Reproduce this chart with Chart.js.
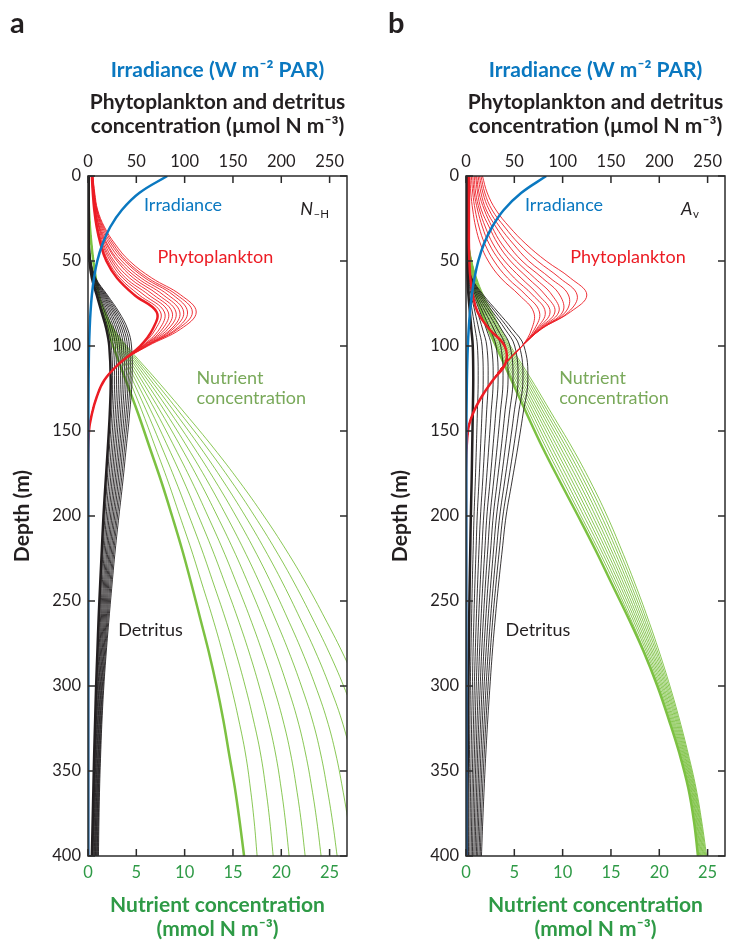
<!DOCTYPE html>
<html>
<head>
<meta charset="utf-8">
<script src="https://cdn.jsdelivr.net/npm/chart.js@4.4.1/dist/chart.umd.min.js"></script>
<style>
  html, body { margin: 0; padding: 0; background: #fff; width: 729px; height: 941px; overflow: hidden; }
  .panel { position: absolute; top: 0; width: 379px; height: 941px; }
  #pa { left: 0; }
  #pb { left: 378px; }
</style>
</head>
<body>
<div class="panel" id="pa"><canvas id="ca" width="379" height="941"></canvas></div>
<div class="panel" id="pb"><canvas id="cb" width="379" height="941"></canvas></div>
<script>
// Depth levels (m): fine grid for light and phytoplankton, coarser below 100 m for detritus and nutrient
const DEPTH_P = [0,10,20,30,40,50,60,70,80,90,100,110,120,130,140,150,175,200,300,400];
const DEPTH_DN = [0,10,20,30,40,50,60,70,80,90,100,120,140,160,180,200,220,240,260,280,300,320,340,360,380,400];

// Tick values
const DEPTH_TICKS = [0,50,100,150,200,250,300,350,400];
const CONC_TICKS = [0,50,100,150,200,250];
const NUT_TICKS = [0,5,10,15,20,25];

// ---- Panel a (N-H ensemble) ----
const IRR_A = [82,53,35,23,15,9.6,6.2,4,2.6,1.7,1.1,0.8,0.6,0.5,0.4,0.35,0.3,0.3,0.3,0.3];

// phytoplankton, depths 0..100 m; first row is the reference run
const PHYTO_A = [
  [4,5,6.5,9,13,19,30,48,71,67,54],
  [4,5,7,9.5,14,21,33,53,75,70,55],
  [4,5,7,10,15,23,36,58,79,74,56],
  [4,5.5,7.5,11,16,25,39,63,83,77,57],
  [4.5,5.5,7.5,11.5,17.5,27,43,68,87,80,57],
  [4.5,6,8,12,19,30,47,73,91,83,58],
  [4.5,6,8.5,13,20,32,51,78,95,86,59],
  [4.5,6,9,14,22,35,55,83,99,88,60],
  [5,6.5,9,15,24,38,59,88,103,91,60],
  [5,6.5,9.5,16,26,40,62,92,108,93,61],
  [5,7,10,17,28,43,66,96,112,96,62]
];
// shared phytoplankton values from 110 m down
const PHYTO_A_TAIL = [33,17,9,4,1,0,0,0,0];

const DET_A = [
  [0.5,0.5,0.5,0.5,0.8,1.5,4,9,14,19,22,23.5,22.5,20.5,18.2,16,14.3,12.6,11.0,9.7,8.4,7.4,6.4,5.6,4.8,4.0],
  [0.55,0.55,0.55,0.55,0.86,1.64,4.36,10,15.6,21,24.1,25.5,24.4,22.2,19.8,17.5,15.6,13.7,12.0,10.5,9.1,8.0,7.0,6.2,5.4,4.6],
  [0.6,0.6,0.6,0.6,0.93,1.77,4.73,11,17.3,23,26.2,27.5,26.2,24.0,21.4,18.9,16.8,14.8,13.0,11.4,9.9,8.7,7.6,6.8,6.0,5.2],
  [0.65,0.65,0.65,0.65,0.99,1.91,5.09,12,18.9,25,28.3,29.5,28.1,25.7,23.1,20.4,18.1,16.0,13.9,12.2,10.6,9.3,8.2,7.3,6.6,5.9],
  [0.7,0.7,0.7,0.7,1.06,2.05,5.45,13,20.5,27,30.4,31.5,30.0,27.4,24.7,21.8,19.4,17.1,14.9,13.0,11.3,10.0,8.8,7.9,7.2,6.5],
  [0.75,0.75,0.75,0.75,1.12,2.18,5.82,14,22.2,29,32.5,33.5,31.8,29.1,26.3,23.3,20.6,18.2,15.9,13.9,12.0,10.6,9.4,8.5,7.8,7.1],
  [0.8,0.8,0.8,0.8,1.18,2.32,6.18,15,23.8,31,34.5,35.5,33.7,30.9,27.9,24.7,21.9,19.3,16.9,14.7,12.8,11.3,10.1,9.1,8.3,7.7],
  [0.8,0.8,0.8,0.8,1.25,2.45,6.55,16,25.5,33,36.6,37.5,35.5,32.6,29.5,26.2,23.1,20.4,17.9,15.6,13.5,11.9,10.7,9.7,8.9,8.3],
  [0.85,0.85,0.85,0.85,1.31,2.59,6.91,17,27.1,35,38.7,39.5,37.4,34.3,31.1,27.6,24.4,21.5,18.9,16.4,14.2,12.6,11.3,10.3,9.5,8.9],
  [0.9,0.9,0.9,0.9,1.38,2.73,7.27,18,28.7,37,40.8,41.5,39.3,36.0,32.8,29.1,25.7,22.7,19.8,17.2,14.9,13.2,11.9,10.8,10.1,9.6],
  [0.95,0.95,0.95,0.95,1.44,2.86,7.64,19,30.4,39,42.9,43.5,41.1,37.8,34.4,30.5,26.9,23.8,20.8,18.1,15.7,13.9,12.5,11.4,10.7,10.2],
  [1,1,1,1,1.5,3,8,20,32,41,45,45.5,43,39.5,36,32,28.2,24.9,21.8,18.9,16.4,14.5,13.1,12.0,11.3,10.8]
];

const NUT_A = [
  [0,0.05,0.1,0.2,0.35,0.55,0.8,1.1,1.5,2.0,2.6,3.9,5.2,6.4,7.6,8.7,9.75,10.7,11.6,12.5,13.3,14.0,14.6,15.2,15.7,16.15],
  [0,0.05,0.1,0.2,0.35,0.55,0.8,1.15,1.6,2.15,2.9,4.3,5.7,7.0,8.3,9.5,10.7,11.8,12.9,13.9,14.8,15.6,16.3,16.8,17.2,17.5],
  [0,0.05,0.1,0.2,0.35,0.55,0.8,1.15,1.62,2.21,3.02,4.61,6.19,7.67,9.12,10.47,11.79,13.0,14.19,15.28,16.26,17.12,17.86,18.39,18.82,19.16],
  [0,0.05,0.1,0.2,0.35,0.55,0.8,1.15,1.64,2.27,3.14,4.92,6.68,8.33,9.94,11.43,12.88,14.2,15.48,16.66,17.71,18.64,19.41,19.98,20.44,20.81],
  [0,0.05,0.1,0.2,0.35,0.55,0.8,1.15,1.67,2.33,3.27,5.23,7.17,9.0,10.77,12.4,13.97,15.4,16.77,18.03,19.17,20.17,20.97,21.57,22.07,22.47],
  [0,0.05,0.1,0.2,0.35,0.55,0.8,1.15,1.69,2.39,3.39,5.54,7.66,9.67,11.59,13.37,15.06,16.6,18.06,19.41,20.62,21.69,22.52,23.16,23.69,24.12],
  [0,0.05,0.1,0.2,0.35,0.55,0.8,1.15,1.71,2.46,3.51,5.86,8.14,10.33,12.41,14.33,16.14,17.8,19.34,20.79,22.08,23.21,24.08,24.74,25.31,25.78],
  [0,0.05,0.1,0.2,0.35,0.55,0.8,1.15,1.73,2.52,3.63,6.17,8.63,11.0,13.23,15.3,17.23,19.0,20.63,22.17,23.54,24.73,25.64,26.33,26.93,27.44],
  [0,0.05,0.1,0.2,0.35,0.55,0.8,1.15,1.75,2.58,3.76,6.48,9.12,11.67,14.05,16.27,18.32,20.2,21.92,23.55,24.99,26.25,27.19,27.92,28.56,29.09],
  [0,0.05,0.1,0.2,0.35,0.55,0.8,1.15,1.78,2.64,3.88,6.79,9.61,12.34,14.88,17.23,19.41,21.4,23.21,24.92,26.45,27.77,28.75,29.51,30.18,30.75],
  [0,0.05,0.1,0.2,0.35,0.55,0.8,1.15,1.8,2.7,4.0,7.1,10.1,13.0,15.7,18.2,20.5,22.6,24.5,26.3,27.9,29.3,30.3,31.1,31.8,32.4]
];

// ---- Panel b (Av ensemble) ----
const IRR_B = [83,57,39,27,18.5,12.7,8.8,6,4.1,2.8,1.9,1.3,0.9,0.7,0.5,0.4,0.3,0.3,0.3,0.3];

// reference run, depths 0..100 m
const PHYTO_B_REF = [3,3,3,3,3,3.5,4.5,7,12,24,40];
// other runs, depths 0..90 m
const PHYTO_B = [
  [4,5,7,10,15,23,36,55,70,68],
  [5.5,7,9.5,13.5,19.5,29,43,62,76,71],
  [7,8.5,12,17,24,35,50,69,82,73],
  [8.5,10,14,20,28,40,57,75,87,74],
  [10,12,16,24,33,46,64,82,92,75],
  [11,13.5,19,27,37,52,71,89,96,76],
  [12.5,15.5,21,31,43,58,79,97,100,77],
  [14,17.5,24,35,49,65,87,106,103,77],
  [15.5,19.5,27,40,55,74,97,115,106,78],
  [17,22,31,45,62,83,108,125,108,78]
];
// shared phytoplankton values from 100 m down
const PHYTO_B_TAIL = [58,41,28,16,7,2,0,0,0,0];

const DET_B = [
  [1,1,1,1,1,1.2,1.6,2.5,4,5.5,7,7.5,7,6.4,5.8,5.0,4.4,3.8,3.3,2.9,2.5,2.2,1.9,1.6,1.4,1.2],
  [1,1,1,1,1.03,1.27,2.0,3.9,6.6,9.4,11.8,12.6,11.7,10.7,9.6,8.3,7.4,6.5,5.8,5.1,4.5,4.1,3.6,3.2,2.9,2.6],
  [1,1,1,1,1.05,1.35,2.4,5.3,9.3,13.2,16.6,17.8,16.5,15.0,13.4,11.6,10.4,9.2,8.2,7.3,6.6,5.9,5.3,4.7,4.3,3.9],
  [1,1,1,1,1.08,1.42,2.8,6.7,11.9,17.1,21.5,22.9,21.2,19.2,17.2,15.0,13.4,12.0,10.7,9.6,8.6,7.8,7.0,6.3,5.8,5.3],
  [1,1,1,1,1.11,1.49,3.2,8.1,14.5,21.0,26.3,28.1,25.9,23.5,21.0,18.3,16.4,14.7,13.1,11.8,10.6,9.6,8.7,7.8,7.2,6.6],
  [1,1,1,1,1.14,1.56,3.6,9.5,17.2,24.8,31.1,33.2,30.7,27.8,24.8,21.6,19.5,17.4,15.6,14.0,12.7,11.5,10.4,9.4,8.7,8.0],
  [1,1,1,1,1.16,1.64,4.0,11.0,19.8,28.7,35.9,38.3,35.4,32.1,28.5,24.9,22.5,20.1,18.0,16.2,14.7,13.3,12.0,11.0,10.1,9.3],
  [1,1,1,1,1.19,1.71,4.4,12.4,22.5,32.5,40.7,43.5,40.1,36.4,32.3,28.2,25.5,22.8,20.5,18.4,16.7,15.2,13.7,12.5,11.6,10.7],
  [1,1,1,1,1.22,1.78,4.8,13.8,25.1,36.4,45.5,48.6,44.8,40.6,36.1,31.6,28.5,25.6,22.9,20.7,18.7,17.0,15.4,14.1,13.0,12.0],
  [1,1,1,1,1.25,1.85,5.2,15.2,27.7,40.3,50.4,53.8,49.6,44.9,39.9,34.9,31.5,28.3,25.4,22.9,20.8,18.9,17.1,15.6,14.5,13.4],
  [1,1,1,1,1.27,1.93,5.6,16.6,30.4,44.1,55.2,58.9,54.3,49.2,43.7,38.2,34.5,31.0,27.8,25.1,22.8,20.7,18.8,17.2,15.9,14.7],
  [1,1,1,1,1.3,2,6,18,33,48,60,64,59,53.5,47.5,41.5,37.5,33.7,30.3,27.3,24.8,22.5,20.5,18.8,17.3,16]
];

const NUT_B = [
  [0,0,0.05,0.1,0.2,0.35,0.6,1.0,1.6,2.3,3.1,4.7,6.3,7.95,9.75,11.6,13.4,15.1,16.8,18.4,19.8,21.0,22.1,23.0,23.6,24.0],
  [0,0,0.05,0.1,0.2,0.4,0.7,1.1,1.7,2.4,3.3,4.9,6.6,8.3,10.1,11.9,13.7,15.4,17.0,18.5,19.9,21.1,22.2,23.1,23.7,24.1],
  [0,0,0.05,0.11,0.21,0.42,0.74,1.18,1.81,2.53,3.44,5.11,6.86,8.6,10.41,12.2,13.97,15.63,17.2,18.67,20.03,21.21,22.29,23.18,23.78,24.19],
  [0,0,0.05,0.11,0.22,0.44,0.79,1.26,1.92,2.67,3.59,5.32,7.11,8.9,10.72,12.5,14.23,15.87,17.4,18.83,20.17,21.32,22.38,23.26,23.86,24.28],
  [0,0,0.05,0.12,0.23,0.47,0.83,1.33,2.03,2.8,3.73,5.53,7.37,9.2,11.03,12.8,14.5,16.1,17.6,19.0,20.3,21.43,22.47,23.33,23.93,24.37],
  [0,0,0.05,0.12,0.24,0.49,0.88,1.41,2.14,2.93,3.88,5.74,7.62,9.5,11.34,13.1,14.77,16.33,17.8,19.17,20.43,21.54,22.56,23.41,24.01,24.46],
  [0,0,0.05,0.13,0.26,0.51,0.92,1.49,2.26,3.07,4.02,5.96,7.88,9.8,11.66,13.4,15.03,16.57,18.0,19.33,20.57,21.66,22.64,23.49,24.09,24.54],
  [0,0,0.05,0.13,0.27,0.53,0.97,1.57,2.37,3.2,4.16,6.17,8.13,10.1,11.97,13.7,15.3,16.8,18.2,19.5,20.7,21.77,22.73,23.57,24.17,24.63],
  [0,0,0.05,0.14,0.28,0.56,1.01,1.64,2.48,3.33,4.31,6.38,8.39,10.4,12.28,14.0,15.57,17.03,18.4,19.67,20.83,21.88,22.82,23.64,24.24,24.72],
  [0,0,0.05,0.14,0.29,0.58,1.06,1.72,2.59,3.47,4.45,6.59,8.64,10.7,12.59,14.3,15.83,17.27,18.6,19.83,20.97,21.99,22.91,23.72,24.32,24.81],
  [0,0,0.05,0.15,0.3,0.6,1.1,1.8,2.7,3.6,4.6,6.8,8.9,11.0,12.9,14.6,16.1,17.5,18.8,20.0,21.1,22.1,23.0,23.8,24.4,24.9]
];

// ---- styling ----
const FONT = 'Lato, "Open Sans", sans-serif';
const BLUE = '#0a78c0';
const RED = '#ec1c24';
const BLACK = '#231f20';
const GREEN = '#7cc142';
const GREEN_AXIS = '#2e9a46';
const GREEN_LABEL = '#79a95a';

const pts = (vals, depths) => vals.map((v, i) => ({ x: v, y: depths[i] }));

function line(vals, depths, axis, color, width) {
  return {
    data: pts(vals, depths), xAxisID: axis, yAxisID: 'y',
    borderColor: color, borderWidth: width, pointRadius: 0,
    showLine: true, tension: 0.4, fill: false
  };
}

// box outline with inward tick marks on all four sides
const frameTicks = {
  id: 'frameTicks',
  afterDatasetsDraw(chart) {
    const { ctx, chartArea: a, scales } = chart;
    const L = 7;
    ctx.save();
    ctx.strokeStyle = '#2b2b2b';
    ctx.lineWidth = 1.5;
    ctx.beginPath();
    DEPTH_TICKS.forEach(v => {
      const p = scales.y.getPixelForValue(v);
      ctx.moveTo(a.left, p); ctx.lineTo(a.left + L, p);
      ctx.moveTo(a.right, p); ctx.lineTo(a.right - L, p);
    });
    CONC_TICKS.forEach(v => {
      const p = scales.x.getPixelForValue(v);
      ctx.moveTo(p, a.top); ctx.lineTo(p, a.top + L);
    });
    NUT_TICKS.forEach(v => {
      const p = scales.xN.getPixelForValue(v);
      ctx.moveTo(p, a.bottom); ctx.lineTo(p, a.bottom - L);
    });
    ctx.stroke();
    ctx.strokeRect(a.left, a.top, a.right - a.left, a.bottom - a.top);
    ctx.restore();
  }
};

// curve names and the run symbol, placed in data coordinates; panel letter in the corner
const curveLabels = {
  id: 'curveLabels',
  afterDatasetsDraw(chart, args, opts) {
    const { ctx, scales } = chart;
    ctx.save();
    ctx.textBaseline = 'middle';
    ctx.textAlign = 'left';
    opts.items.forEach(it => {
      ctx.font = '18px ' + FONT;
      ctx.fillStyle = it.color;
      ctx.fillText(it.text, scales.x.getPixelForValue(it.x), scales.y.getPixelForValue(it.d));
    });
    const s = opts.symbol;
    const sx = scales.x.getPixelForValue(s.x), sy = scales.y.getPixelForValue(s.d);
    ctx.fillStyle = BLACK;
    ctx.font = 'italic 18px ' + FONT;
    ctx.fillText(s.main, sx, sy);
    const w = ctx.measureText(s.main).width;
    ctx.font = '11.5px ' + FONT;
    ctx.fillText(s.sub, sx + w + 0.5, sy + 5);
    ctx.restore();
  },
  afterDraw(chart, args, opts) {
    const { ctx } = chart;
    ctx.save();
    ctx.fillStyle = BLACK;
    ctx.font = 'bold 29px ' + FONT;
    ctx.textBaseline = 'alphabetic';
    ctx.textAlign = 'left';
    ctx.fillText(opts.letter, 10, 33);
    ctx.restore();
  }
};

function makeScales() {
  const tickFont = { family: FONT, size: 16.5 };
  const titleFont = { family: FONT, size: 21, weight: 'bold', lineHeight: 1.143 };
  return {
    y: {
      type: 'linear', position: 'left', reverse: true, min: 0, max: 400,
      afterFit: s => { s.width = 88; },
      ticks: { stepSize: 50, font: tickFont, color: BLACK, padding: 7, includeBounds: false },
      grid: { display: false, drawTicks: false }, border: { display: false },
      title: { display: true, text: 'Depth (m)', font: titleFont, color: BLACK, padding: { top: 10, bottom: 0 } }
    },
    x: {
      type: 'linear', position: 'top', min: 0, max: 268, weight: 0,
      afterFit: s => { s.height = 90; },
      ticks: { stepSize: 50, font: tickFont, color: BLACK, padding: 4, includeBounds: false, maxRotation: 0 },
      grid: { display: false, drawTicks: false }, border: { display: false },
      title: { display: true, text: ['Phytoplankton and detritus', 'concentration (\u00b5mol N m\u207b\u00b3)'],
               font: titleFont, color: BLACK, padding: { top: 4, bottom: 0 } }
    },
    xI: {
      type: 'linear', position: 'top', min: 0, max: 268, weight: 1,
      afterFit: s => { s.height = 86; },
      ticks: { display: false }, grid: { display: false, drawTicks: false }, border: { display: false },
      title: { display: true, text: 'Irradiance (W m\u207b\u00b2 PAR)', font: titleFont, color: BLUE, padding: { top: 58, bottom: 0 } }
    },
    xN: {
      type: 'linear', position: 'bottom', min: 0, max: 26.8,
      afterFit: s => { s.height = 85; },
      ticks: { stepSize: 5, font: tickFont, color: GREEN_AXIS, padding: 7, includeBounds: false, maxRotation: 0 },
      grid: { display: false, drawTicks: false }, border: { display: false },
      title: { display: true, text: ['Nutrient concentration', '(mmol N m\u207b\u00b3)'], font: titleFont, color: GREEN_AXIS, padding: { top: 0, bottom: 0 } }
    }
  };
}

function makeChart(canvasId, datasets, letter, items, symbol) {
  return new Chart(document.getElementById(canvasId), {
    type: 'scatter',
    data: { datasets },
    options: {
      responsive: false, animation: false, events: [],
      layout: { padding: { left: 0, right: 32, top: 0, bottom: 0 } },
      scales: makeScales(),
      plugins: {
        legend: { display: false }, tooltip: { enabled: false },
        curveLabels: { letter, items, symbol }
      }
    },
    plugins: [frameTicks, curveLabels]
  });
}

// datasets listed top-most first
const dsA = [
  line(IRR_A, DEPTH_P, 'x', BLUE, 2.5),
  line(PHYTO_A[0].concat(PHYTO_A_TAIL), DEPTH_P, 'x', RED, 2.5),
  ...PHYTO_A.slice(1).map(r => line(r.concat(PHYTO_A_TAIL), DEPTH_P, 'x', RED, 0.9)),
  line(DET_A[0], DEPTH_DN, 'x', BLACK, 2.5),
  ...DET_A.slice(1).map(r => line(r, DEPTH_DN, 'x', BLACK, 0.9)),
  line(NUT_A[0], DEPTH_DN, 'xN', GREEN, 2.5),
  ...NUT_A.slice(1).map(r => line(r, DEPTH_DN, 'xN', GREEN, 0.9))
];

const dsB = [
  line(IRR_B, DEPTH_P, 'x', BLUE, 2.5),
  line(PHYTO_B_REF.concat(PHYTO_B_TAIL.slice(1)), DEPTH_P, 'x', RED, 2.5),
  ...PHYTO_B.map(r => line(r.concat(PHYTO_B_TAIL), DEPTH_P, 'x', RED, 0.9)),
  line(DET_B[0], DEPTH_DN, 'x', BLACK, 2.5),
  ...DET_B.slice(1).map(r => line(r, DEPTH_DN, 'x', BLACK, 0.9)),
  line(NUT_B[0], DEPTH_DN, 'xN', GREEN, 2.5),
  ...NUT_B.slice(1).map(r => line(r, DEPTH_DN, 'xN', GREEN, 0.9))
];

makeChart('ca', dsA, 'a', [
  { text: 'Irradiance', x: 57.9, d: 17, color: BLUE },
  { text: 'Phytoplankton', x: 72, d: 48, color: RED },
  { text: 'Nutrient', x: 112.3, d: 119, color: GREEN_LABEL },
  { text: 'concentration', x: 112.3, d: 130.8, color: GREEN_LABEL },
  { text: 'Detritus', x: 31.3, d: 267, color: BLACK }
], { main: 'N', sub: '\u2013H', x: 219.7, d: 19.6 });

makeChart('cb', dsB, 'b', [
  { text: 'Irradiance', x: 61, d: 17, color: BLUE },
  { text: 'Phytoplankton', x: 107.8, d: 47.5, color: RED },
  { text: 'Nutrient', x: 96.4, d: 119, color: GREEN_LABEL },
  { text: 'concentration', x: 96.4, d: 130.8, color: GREEN_LABEL },
  { text: 'Detritus', x: 41, d: 267, color: BLACK }
], { main: 'A', sub: 'v', x: 222.5, d: 19.6 });
</script>
</body>
</html>
